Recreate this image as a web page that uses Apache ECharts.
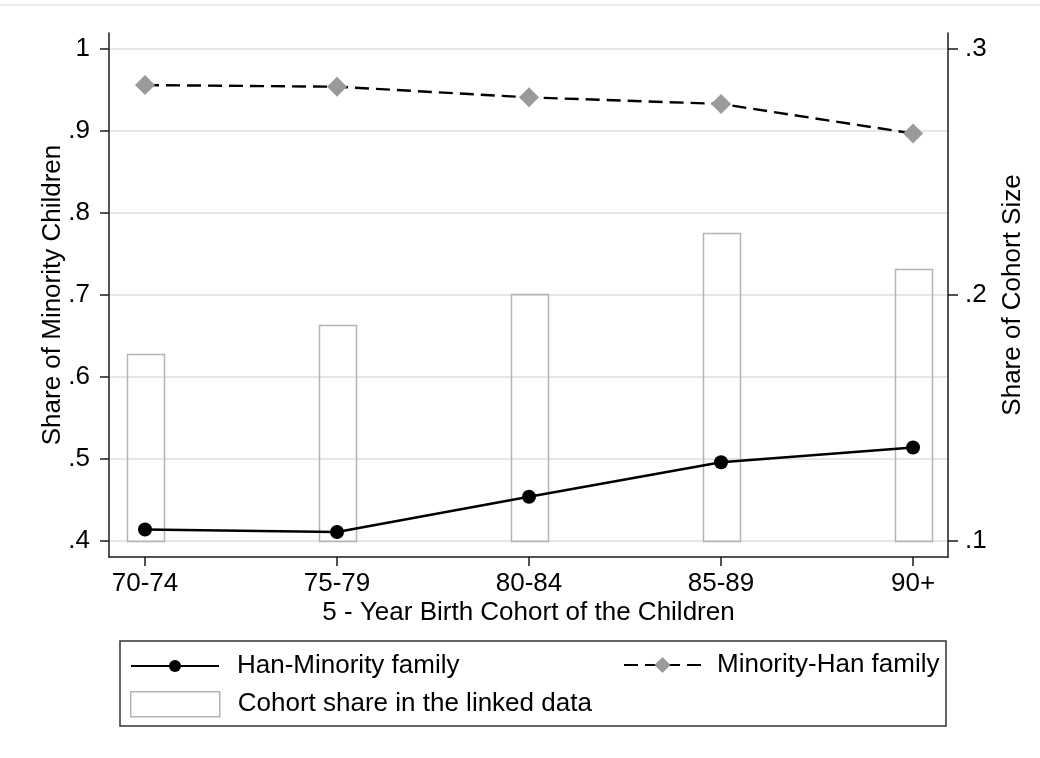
<!DOCTYPE html>
<html>
<head>
<meta charset="utf-8">
<script src="https://cdn.jsdelivr.net/npm/echarts@6/dist/echarts.min.js"></script>
<style>
html,body{margin:0;padding:0;background:#fff;}
#chart{width:1040px;height:758px;}
</style>
</head>
<body>
<div id="chart"></div>
<script>
const categories = ['70-74', '75-79', '80-84', '85-89', '90+'];
const hanMinority = [0.414, 0.411, 0.454, 0.496, 0.514];
const minorityHan = [0.956, 0.954, 0.941, 0.933, 0.897];
const cohortShare = [0.176, 0.188, 0.2005, 0.225, 0.2106];
const leftTicks = [0.4, 0.5, 0.6, 0.7, 0.8, 0.9, 1.0];
const rightTicks = [0.1, 0.2, 0.3];
const xTicks = [0, 1, 2, 3, 4];

const FONT = 'Liberation Sans';
const FS = 26;
const fmtDec = v => {
  const r = Math.round(v * 10) / 10;
  if (r === 1) return '1';
  return String(r).replace(/^0/, '');
};

const chart = echarts.init(document.getElementById('chart'), null, {renderer: 'canvas'});

const lineData = arr => arr.map((v, i) => [i, v]);
const axisCol = '#1a1a1a';

const option = {
  backgroundColor: '#fff',
  animation: false,
  textStyle: {fontFamily: FONT},
  grid: {left: 109, right: 92, top: 33, bottom: 201, containLabel: false, outerBoundsMode: 'none'},
  xAxis: {
    type: 'value',
    min: -0.1875,
    max: 4.182,
    name: '5 - Year Birth Cohort of the Children',
    nameLocation: 'middle',
    nameGap: 43,
    nameMoveOverlap: false,
    nameTextStyle: {fontFamily: FONT, fontSize: FS, color: '#000', verticalAlign: 'top'},
    axisLine: {show: true, onZero: false, lineStyle: {color: axisCol, width: 1.5}},
    axisTick: {show: true, inside: false, length: 9, customValues: xTicks, lineStyle: {color: axisCol, width: 1.5}},
    axisLabel: {show: true, customValues: xTicks, margin: 14, fontFamily: FONT, fontSize: FS, color: '#000',
      formatter: v => categories[Math.round(v)] || ''},
    splitLine: {show: false}
  },
  yAxis: [
    {
      type: 'value',
      min: 0.3805,
      max: 1.0195,
      position: 'left',
      name: 'Share of Minority Children',
      nameLocation: 'middle',
      nameGap: 43,
      nameMoveOverlap: false,
      nameRotate: 90,
      nameTextStyle: {fontFamily: FONT, fontSize: FS, color: '#000'},
      axisLine: {show: true, onZero: false, lineStyle: {color: axisCol, width: 1.5}},
      axisTick: {show: true, inside: false, length: 9, customValues: leftTicks, lineStyle: {color: axisCol, width: 1.5}},
      axisLabel: {show: true, customValues: leftTicks, margin: 19, fontFamily: FONT, fontSize: FS, color: '#000', formatter: fmtDec},
      splitLine: {show: false}
    },
    {
      type: 'value',
      min: 0.0935,
      max: 0.3065,
      position: 'right',
      name: 'Share of Cohort Size',
      nameLocation: 'middle',
      nameGap: 52,
      nameMoveOverlap: false,
      nameRotate: 90,
      nameTextStyle: {fontFamily: FONT, fontSize: FS, color: '#000'},
      axisLine: {show: true, onZero: false, lineStyle: {color: axisCol, width: 1.5}},
      axisTick: {show: true, inside: false, length: 10, customValues: rightTicks, lineStyle: {color: axisCol, width: 1.5}},
      axisLabel: {show: true, customValues: rightTicks, margin: 17, fontFamily: FONT, fontSize: FS, color: '#000', formatter: fmtDec},
      splitLine: {show: false}
    }
  ],
  legend: [
    {
      left: 130, top: 653, padding: 0, orient: 'horizontal', selectedMode: false,
      itemWidth: 88, itemHeight: 15,
      textStyle: {fontFamily: FONT, fontSize: FS, color: '#000', padding: [0, 0, 0, 13]},
      data: ['Han-Minority family']
    },
    {
      left: 623, top: 652, padding: 0, orient: 'horizontal', selectedMode: false,
      itemWidth: 77, itemHeight: 20,
      textStyle: {fontFamily: FONT, fontSize: FS, color: '#000', padding: [0, 0, 0, 11]},
      data: ['Minority-Han family']
    },
    {
      left: 130, top: 691, padding: 0, orient: 'horizontal', selectedMode: false,
      itemWidth: 89, itemHeight: 25,
      textStyle: {fontFamily: FONT, fontSize: FS, color: '#000', padding: [0, 0, 0, 13]},
      data: [{name: 'Cohort share in the linked data', icon: 'rect',
        itemStyle: {color: '#fff', borderColor: '#b4b4b4', borderWidth: 1.5}}]
    }
  ],
  graphic: [
    {type: 'line', silent: true, shape: {x1: 0, y1: 5, x2: 1040, y2: 5}, style: {stroke: '#e6e6e6', lineWidth: 1.5}},
    {type: 'rect', silent: true, z: -1, shape: {x: 120, y: 641, width: 826, height: 85},
      style: {fill: 'none', stroke: '#333', lineWidth: 1.5}}
  ],
  series: [
    {
      name: 'Cohort share in the linked data',
      type: 'custom',
      xAxisIndex: 0,
      yAxisIndex: 1,
      z: 1,
      itemStyle: {color: '#fff', borderColor: '#b4b4b4', borderWidth: 1.5},
      encode: {x: 0, y: 1},
      data: lineData(cohortShare),
      renderItem: function (params, api) {
        const x = api.value(0);
        const v = api.value(1);
        const top = api.coord([x, v]);
        const base = api.coord([x, rightTicks[0]]);
        const w = 37;
        return {
          type: 'rect',
          shape: {x: Math.round(top[0] - w / 2) + 0.5, y: Math.round(top[1]) + 0.5, width: w, height: Math.round(base[1]) - Math.round(top[1])},
          style: {fill: 'none', stroke: '#b4b4b4', lineWidth: 1.5}
        };
      }
    },
    {
      name: 'Han-Minority family',
      type: 'line',
      yAxisIndex: 0,
      z: 3,
      symbol: 'circle',
      symbolSize: 14,
      itemStyle: {color: '#000'},
      lineStyle: {color: '#000', width: 2.4, type: 'solid'},
      data: lineData(hanMinority),
      markLine: {
        silent: true,
        z: 0,
        symbol: 'none',
        label: {show: false},
        lineStyle: {color: '#e6e6e6', width: 2, type: 'solid'},
        data: leftTicks.map(v => ({yAxis: v}))
      }
    },
    {
      name: 'Minority-Han family',
      type: 'line',
      yAxisIndex: 0,
      z: 3,
      symbol: 'diamond',
      symbolSize: 20,
      itemStyle: {color: '#9a9a9a'},
      lineStyle: {color: '#000', width: 2.4, type: [14, 7]},
      data: lineData(minorityHan)
    }
  ]
};

chart.setOption(option);
</script>
</body>
</html>
